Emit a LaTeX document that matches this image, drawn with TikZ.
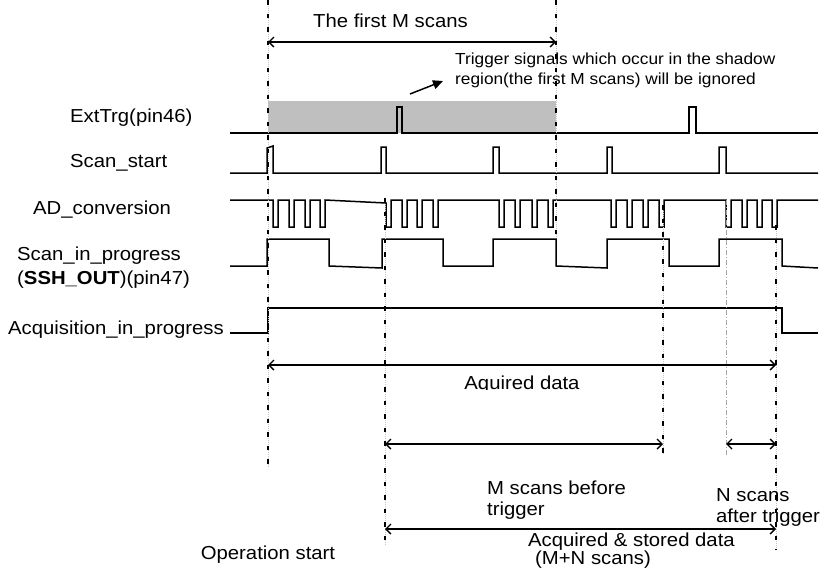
\documentclass[tikz,border=0pt]{standalone}
\usepackage{fontspec}
\setmainfont{Liberation Sans}
\newfontfamily\lbfont{Liberation Sans}[FakeStretch=1.08]
\usetikzlibrary{arrows.meta}
\begin{document}
\begin{tikzpicture}[x=1pt,y=-1pt,
  wave/.style={line width=1.5pt, line join=miter},
  timeline/.style={line width=2pt, dash pattern=on 4.5pt off 9pt,
    preaction={draw, gray!45, line width=0.8pt, dash pattern=on 1pt off 1pt}},
  guide/.style={gray!70, line width=0.8pt, dash pattern=on 5pt off 2pt on 1pt off 2pt},
  span/.style={line width=1.4pt, {Straight Barb[length=5pt,width=10pt]}-{Straight Barb[length=5pt,width=10pt]}},
  lab/.style={anchor=base west, inner sep=0pt, font=\lbfont\fontsize{18.8}{22}\selectfont},
  note/.style={anchor=base west, inner sep=0pt, font=\lbfont\fontsize{16}{19}\selectfont}]

\fill[white] (0,0) rectangle (820,568);
\useasboundingbox (0,0) rectangle (820,568);

% shadow region: the first M scans
\fill[black!25] (268,101) rectangle (556,133);

% ExtTrg(pin46)
\draw[wave] (230,133) -- (397,133) -- (397,107) -- (402,107) -- (402,133)
  -- (689,133) -- (689,107) -- (696,107) -- (696,133) -- (818,133);

% Scan_start
\draw[wave] (230,173) -- (267,173) -- (267,148) -- (273,146) -- (273,173)
  -- (381,173) -- (381,147) -- (386,147) -- (386,173)
  -- (493,173) -- (493,147) -- (499,147) -- (499,173)
  -- (607,173) -- (607,147) -- (612,147) -- (612,173)
  -- (719,173) -- (719,147) -- (726,147) -- (726,173) -- (818,173);

% AD_conversion
\draw[wave] (230,200) -- (273,200)
  -- (273,227) -- (278,227) -- (278,200) -- (289,200) -- (289,227) -- (294,227) -- (294,200)
  -- (305,200) -- (305,227) -- (310,227) -- (310,200) -- (320,200) -- (320,227) -- (325,227) -- (325,200)
  -- (386,203)
  -- (386,227) -- (391,227) -- (391,200) -- (402,200) -- (402,227) -- (407,227) -- (407,200)
  -- (417,200) -- (417,227) -- (422,227) -- (422,200) -- (433,200) -- (433,227) -- (438,227) -- (438,200)
  -- (499,200)
  -- (499,227) -- (504,227) -- (504,200) -- (515,200) -- (515,227) -- (520,227) -- (520,200)
  -- (532,200) -- (532,227) -- (537,227) -- (537,200) -- (548,200) -- (548,227) -- (553,227) -- (553,200)
  -- (611,200)
  -- (611,227) -- (616,227) -- (616,200) -- (627,200) -- (627,227) -- (632,227) -- (632,200)
  -- (643,200) -- (643,227) -- (648,227) -- (648,200) -- (659,200) -- (659,227) -- (664,227) -- (664,200)
  -- (726,200)
  -- (726,227) -- (731,227) -- (731,200) -- (742,200) -- (742,227) -- (747,227) -- (747,200)
  -- (757,200) -- (757,227) -- (762,227) -- (762,200) -- (772,200) -- (772,227) -- (777,227) -- (777,200)
  -- (818,200);

% Scan_in_progress (SSH_OUT)
\draw[wave] (230,266) -- (267,266) -- (267,239) -- (329,239) -- (329,266) -- (382,268)
  -- (382,239) -- (443,239) -- (443,266) -- (493,266) -- (493,239) -- (556,239)
  -- (556,266) -- (607,268) -- (607,239) -- (669,239) -- (669,266) -- (719,266)
  -- (719,239) -- (782,239) -- (782,266) -- (818,268);

% Acquisition_in_progress
\draw[wave] (230,333) -- (268,333) -- (268,308) -- (782,308) -- (782,333) -- (818,333);

% time markers
\coordinate (m1t) at (268,0);   \coordinate (m1b) at (268,468);
\coordinate (m2t) at (556,0);   \coordinate (m2b) at (556,237);
\coordinate (m3t) at (385,198); \coordinate (m3b) at (385,545);
\coordinate (m4t) at (663,205); \coordinate (m4b) at (663,455);
\coordinate (m5t) at (726,200); \coordinate (m5b) at (726,455);
\coordinate (m6t) at (776,225); \coordinate (m6b) at (776,550);
\draw[timeline] (m1t) -- (m1b);
\draw[timeline] (m2t) -- (m2b);
\draw[timeline] (m3t) -- (m3b);
\draw[timeline] (m4t) -- (m4b);
\draw[guide]    (m5t) -- (m5b);
\draw[timeline] (m6t) -- (m6b);

% spans
\coordinate (s1a) at (268,42);  \coordinate (s1b) at (556,42);
\coordinate (s2a) at (268,365); \coordinate (s2b) at (776,365);
\coordinate (s3a) at (385,444); \coordinate (s3b) at (663,444);
\coordinate (s4a) at (726,444); \coordinate (s4b) at (776,444);
\coordinate (s5a) at (385,529); \coordinate (s5b) at (776,529);
\draw[span] (s1a) -- (s1b);
\draw[span] (s2a) -- (s2b);
\draw[span] (s3a) -- (s3b);
\draw[span] (s4a) -- (s4b);
\draw[span] (s5a) -- (s5b);

% pointer to the shadow region
\coordinate (p1) at (410,94);
\coordinate (p2) at (443,81);
\draw[line width=1.5pt, -{Triangle[length=10pt,width=9pt]}] (p1) -- (p2);

% signal names
\node[lab] (lExt)  at (70,122)  {ExtTrg(pin46)};
\node[lab] (lScan) at (70,167)  {Scan\_start};
\node[lab] (lAD)   at (33,214)  {AD\_conversion};
\node[lab] (lSip)  at (17,260)  {Scan\_in\_progress};
\node[lab] (lSsh)  at (17,284)  {(\textbf{SSH\_OUT})(pin47)};
\node[lab] (lAcq)  at (8,334)   {Acquisition\_in\_progress};

% annotations
\node[lab]  (tFirst) at (313,27) {The first M scans};
\node[note] (tTrg1)  at (455,64) {Trigger signals which occur in the shadow};
\node[note] (tTrg2)  at (455,84) {region(the first M scans) will be ignored};
\begin{scope}
  \clip (400,368) rectangle (650,389.4);
  \node[lab, anchor=base] (tAq) at (522,389) {Aquired data};
\end{scope}
\node[lab] (tM1)  at (487,494) {M scans before};
\node[lab] (tM2)  at (487,515) {trigger};
\node[lab] (tN1)  at (716,501) {N scans};
\node[lab] (tN2)  at (716,522) {after trigger};
\node[lab, anchor=base] (tOp) at (268,559) {Operation start};
\node[lab] (tSt1) at (528,546.5) {Acquired \& stored data};
\node[lab] (tSt2) at (535,564.3) {(M+N scans)};
\end{tikzpicture}
\end{document}
